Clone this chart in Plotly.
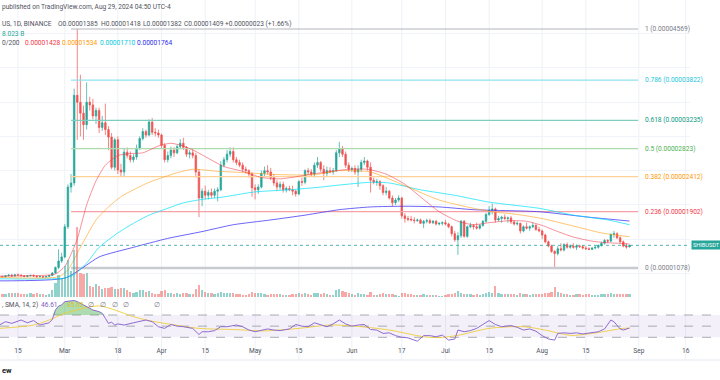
import plotly.graph_objects as go
import pandas as pd

# ---------------- DATA (prices in units of 1e-5 USDT, volume in billions) ----------------
dates = pd.date_range("2024-02-09", "2024-08-29", freq="D")

open_ = [
    # Feb 9-29
    .945, .955, .950, .965, .975, .960, .980, .975, .965, .955, .965, .970, .960, .950, .955, .945, .955, .970, 1.005, 1.085, 1.18,
    # Mar
    1.24, 1.68, 2.26, 2.32, 3.60, 3.50, 3.34, 3.17, 3.50, 3.46, 3.30, 3.38, 3.13, 3.20, 3.10, 2.99, 2.55, 2.95, 2.51, 2.48,
    2.77, 2.72, 2.66, 2.70, 2.83, 2.97, 3.07, 3.02, 3.21, 3.06, 3.05,
    # Apr
    3.02, 2.87, 2.66, 2.72, 2.80, 2.76, 2.85, 2.90, 2.84, 2.74, 2.76, 2.72, 2.48, 2.10, 2.20, 2.14, 2.18, 2.14, 2.20, 2.22,
    2.58, 2.66, 2.74, 2.78, 2.66, 2.62, 2.58, 2.52, 2.50, 2.45,
    # May
    2.25, 2.22, 2.26, 2.46, 2.50, 2.48, 2.40, 2.32, 2.26, 2.30, 2.22, 2.24, 2.22, 2.20, 2.16, 2.34, 2.33, 2.50, 2.48, 2.45,
    2.58, 2.62, 2.52, 2.46, 2.50, 2.48, 2.50, 2.76, 2.82, 2.74, 2.58,
    # Jun
    2.52, 2.53, 2.48, 2.52, 2.62, 2.64, 2.55, 2.36, 2.33, 2.34, 2.28, 2.18, 2.20, 2.10, 2.03, 2.07, 2.10, 1.84, 1.80, 1.79,
    1.78, 1.77, 1.78, 1.73, 1.76, 1.77, 1.74, 1.76, 1.72, 1.73,
    # Jul
    1.74, 1.72, 1.68, 1.58, 1.49, 1.55, 1.76, 1.54, 1.68, 1.70, 1.68, 1.66, 1.70, 1.76, 1.86, 1.92, 1.94, 1.78, 1.80, 1.82,
    1.80, 1.81, 1.75, 1.72, 1.73, 1.62, 1.68, 1.66, 1.68, 1.70, 1.64,
    # Aug 1-29
    1.62, 1.56, 1.46, 1.40, 1.32, 1.29, 1.36, 1.34, 1.42, 1.38, 1.40, 1.38, 1.40, 1.39, 1.37, 1.36, 1.35, 1.37, 1.38, 1.41,
    1.44, 1.48, 1.47, 1.57, 1.58, 1.52, 1.46, 1.40, 1.385,
]
high = [
    .960, .965, .975, .985, .990, .985, .995, .985, .975, .970, .980, .985, .970, .965, .960, .960, .975, 1.02, 1.10, 1.35, 1.30,
    1.72, 2.30, 2.45, 3.70, 4.569, 3.90, 3.45, 3.79, 3.58, 3.55, 3.42, 3.42, 3.30, 3.48, 3.15, 3.05, 2.98, 3.00, 2.60, 2.82,
    2.84, 2.78, 2.74, 2.88, 3.00, 3.12, 3.10, 3.25, 3.27, 3.12, 3.10,
    3.04, 2.90, 2.78, 2.85, 2.84, 2.88, 2.96, 2.98, 2.86, 2.80, 2.82, 2.76, 2.52, 2.24, 2.28, 2.22, 2.24, 2.24, 2.26, 2.64,
    2.70, 2.80, 2.84, 2.84, 2.70, 2.66, 2.62, 2.56, 2.52, 2.48,
    2.30, 2.30, 2.50, 2.56, 2.58, 2.54, 2.45, 2.36, 2.34, 2.34, 2.27, 2.28, 2.28, 2.22, 2.36, 2.40, 2.52, 2.54, 2.52, 2.62,
    2.70, 2.64, 2.58, 2.56, 2.55, 2.54, 2.80, 2.92, 2.86, 2.78, 2.62,
    2.56, 2.58, 2.58, 2.66, 2.70, 2.66, 2.62, 2.40, 2.38, 2.36, 2.30, 2.26, 2.22, 2.14, 2.10, 2.14, 2.12, 1.88, 1.84, 1.84,
    1.82, 1.80, 1.80, 1.78, 1.80, 1.80, 1.78, 1.78, 1.75, 1.76,
    1.78, 1.74, 1.70, 1.62, 1.60, 1.78, 1.78, 1.70, 1.74, 1.72, 1.74, 1.72, 1.78, 1.88, 1.98, 2.02, 1.96, 1.84, 1.84, 1.86,
    1.83, 1.84, 1.78, 1.76, 1.74, 1.70, 1.74, 1.70, 1.74, 1.72, 1.68,
    1.64, 1.58, 1.48, 1.42, 1.34, 1.40, 1.44, 1.44, 1.45, 1.42, 1.44, 1.42, 1.42, 1.41, 1.40, 1.38, 1.38, 1.40, 1.42, 1.46,
    1.50, 1.50, 1.58, 1.62, 1.60, 1.54, 1.48, 1.44, 1.418,
]
low = [
    .935, .945, .945, .955, .955, .955, .965, .960, .945, .945, .955, .950, .940, .940, .935, .940, .950, .960, .995, 1.06, 1.15,
    1.22, 1.65, 2.18, 2.28, 2.95, 3.00, 2.95, 3.10, 3.38, 3.25, 3.18, 3.05, 3.08, 3.02, 2.80, 2.52, 2.50, 2.45, 2.42, 2.42,
    2.68, 2.62, 2.62, 2.66, 2.80, 2.94, 2.98, 3.00, 3.02, 3.00, 2.98,
    2.82, 2.62, 2.62, 2.68, 2.70, 2.74, 2.82, 2.80, 2.70, 2.68, 2.68, 2.40, 1.82, 1.98, 2.08, 2.08, 2.10, 2.10, 2.05, 2.20,
    2.55, 2.62, 2.70, 2.62, 2.58, 2.55, 2.48, 2.46, 2.40, 2.12,
    2.08, 2.16, 2.24, 2.42, 2.44, 2.36, 2.28, 2.20, 2.22, 2.18, 2.18, 2.20, 2.14, 2.12, 2.14, 2.28, 2.30, 2.44, 2.42, 2.40,
    2.54, 2.48, 2.36, 2.42, 2.46, 2.44, 2.48, 2.70, 2.70, 2.54, 2.48,
    2.48, 2.44, 2.26, 2.48, 2.58, 2.50, 2.18, 2.30, 2.28, 2.22, 2.14, 2.14, 2.08, 1.98, 2.00, 2.04, 1.80, 1.74, 1.76, 1.76,
    1.73, 1.75, 1.72, 1.66, 1.73, 1.72, 1.72, 1.70, 1.70, 1.70,
    1.70, 1.66, 1.54, 1.46, 1.27, 1.52, 1.52, 1.52, 1.66, 1.64, 1.64, 1.64, 1.68, 1.74, 1.84, 1.86, 1.74, 1.76, 1.74, 1.78,
    1.74, 1.72, 1.70, 1.70, 1.58, 1.60, 1.64, 1.62, 1.66, 1.62, 1.60,
    1.50, 1.44, 1.38, 1.30, 1.078, 1.26, 1.32, 1.32, 1.36, 1.36, 1.36, 1.34, 1.37, 1.35, 1.34, 1.34, 1.34, 1.35, 1.36, 1.39,
    1.42, 1.44, 1.46, 1.52, 1.50, 1.44, 1.38, 1.36, 1.382,
]
close = [
    .955, .950, .965, .975, .960, .980, .975, .965, .955, .965, .970, .960, .950, .955, .945, .955, .970, 1.005, 1.085, 1.18, 1.24,
    1.68, 2.26, 2.32, 3.60, 3.50, 3.34, 3.17, 3.50, 3.46, 3.30, 3.38, 3.13, 3.20, 3.10, 2.99, 2.55, 2.95, 2.51, 2.48, 2.77,
    2.72, 2.66, 2.70, 2.83, 2.97, 3.07, 3.02, 3.21, 3.06, 3.05, 3.02,
    2.87, 2.66, 2.72, 2.80, 2.76, 2.85, 2.90, 2.84, 2.74, 2.76, 2.72, 2.48, 2.10, 2.20, 2.14, 2.18, 2.14, 2.20, 2.22, 2.58,
    2.66, 2.74, 2.78, 2.66, 2.62, 2.58, 2.52, 2.50, 2.45, 2.25,
    2.22, 2.26, 2.46, 2.50, 2.48, 2.40, 2.32, 2.26, 2.30, 2.22, 2.24, 2.22, 2.20, 2.16, 2.34, 2.33, 2.50, 2.48, 2.45, 2.58,
    2.62, 2.52, 2.46, 2.50, 2.48, 2.50, 2.76, 2.82, 2.74, 2.58, 2.52,
    2.53, 2.48, 2.52, 2.62, 2.64, 2.55, 2.36, 2.33, 2.34, 2.28, 2.18, 2.20, 2.10, 2.03, 2.07, 2.10, 1.84, 1.80, 1.79, 1.78,
    1.77, 1.78, 1.73, 1.76, 1.77, 1.74, 1.76, 1.72, 1.73, 1.74,
    1.72, 1.68, 1.58, 1.49, 1.55, 1.76, 1.54, 1.68, 1.70, 1.68, 1.66, 1.70, 1.76, 1.86, 1.92, 1.94, 1.78, 1.80, 1.82, 1.80,
    1.81, 1.75, 1.72, 1.73, 1.62, 1.68, 1.66, 1.68, 1.70, 1.64, 1.62,
    1.56, 1.46, 1.40, 1.32, 1.29, 1.36, 1.34, 1.42, 1.38, 1.40, 1.38, 1.40, 1.39, 1.37, 1.36, 1.35, 1.37, 1.38, 1.41, 1.44,
    1.48, 1.47, 1.57, 1.58, 1.52, 1.46, 1.40, 1.385, 1.409,
]
volume = [
    10, 8, 9, 12, 11, 10, 12, 9, 7, 8, 10, 9, 11, 8, 7, 6, 9, 20, 38, 60, 50,
    85, 100, 70, 127, 190, 65, 62, 65, 30, 28, 35, 30, 22, 25, 25, 28, 22, 22, 24, 25, 18, 14, 12, 13, 18, 18, 14, 16, 12, 9, 8,
    15, 18, 12, 10, 8, 11, 9, 12, 10, 8, 9, 22, 32, 18, 14, 12, 10, 9, 10, 14, 12, 10, 11, 12, 9, 8, 6, 6, 8, 14,
    12, 10, 11, 7, 6, 8, 9, 8, 7, 6, 5, 5, 8, 7, 12, 9, 10, 7, 6, 11, 12, 9, 10, 7, 5, 6, 18, 22, 16, 14, 10,
    8, 6, 10, 9, 7, 6, 14, 6, 5, 8, 10, 7, 8, 9, 5, 4, 12, 10, 8, 7, 6, 5, 6, 9, 6, 5, 5, 6, 4, 4,
    6, 7, 9, 10, 16, 12, 8, 9, 7, 6, 7, 6, 8, 10, 14, 12, 30, 12, 9, 8, 7, 8, 8, 6, 10, 9, 7, 6, 7, 8, 9,
    9, 10, 12, 14, 28, 14, 10, 9, 8, 6, 6, 8, 7, 6, 8, 7, 5, 5, 6, 8, 9, 7, 12, 9, 8, 9, 8, 7, 8.023,
]

# Moving averages (sparse samples)
ma20_dates = ["2024-02-09", "2024-02-20", "2024-02-27", "2024-03-01", "2024-03-03", "2024-03-05", "2024-03-08", "2024-03-11",
              "2024-03-14", "2024-03-18", "2024-03-22", "2024-03-26", "2024-03-31", "2024-04-04", "2024-04-08", "2024-04-12",
              "2024-04-16", "2024-04-21", "2024-04-27", "2024-05-03", "2024-05-09", "2024-05-14", "2024-05-19", "2024-05-24",
              "2024-05-31", "2024-06-06", "2024-06-12", "2024-06-18", "2024-06-24", "2024-06-29", "2024-07-05", "2024-07-10",
              "2024-07-15", "2024-07-22", "2024-07-27", "2024-08-01", "2024-08-06", "2024-08-11", "2024-08-17", "2024-08-21",
              "2024-08-25", "2024-08-29"]
ma20_vals = [0.96, 0.965, 0.99, 1.10, 1.28, 1.50, 2.00, 2.35, 2.58, 2.72, 2.75, 2.76, 2.86, 2.90, 2.86, 2.78,
             2.68, 2.56, 2.49, 2.40, 2.38, 2.41, 2.45, 2.48, 2.52, 2.52, 2.45, 2.30, 2.08, 1.90, 1.76, 1.71,
             1.74, 1.77, 1.76, 1.70, 1.61, 1.53, 1.47, 1.45, 1.44, 1.428]

ma50_dates = ["2024-02-09", "2024-02-28", "2024-03-02", "2024-03-06", "2024-03-11", "2024-03-15", "2024-03-19", "2024-03-23",
              "2024-03-28", "2024-04-02", "2024-04-06", "2024-04-11", "2024-04-19", "2024-04-24", "2024-05-01", "2024-05-10",
              "2024-05-20", "2024-05-28", "2024-06-07", "2024-06-18", "2024-06-29", "2024-07-10", "2024-07-16", "2024-07-24",
              "2024-08-01", "2024-08-12", "2024-08-20", "2024-08-29"]
ma50_vals = [0.94, 0.95, 1.05, 1.38, 1.78, 1.97, 2.12, 2.22, 2.33, 2.41, 2.47, 2.52, 2.49, 2.48, 2.46, 2.44,
             2.44, 2.50, 2.48, 2.28, 2.07, 1.95, 1.90, 1.86, 1.80, 1.68, 1.59, 1.534]

ma100_dates = ["2024-02-09", "2024-03-01", "2024-03-04", "2024-03-08", "2024-03-12", "2024-03-18", "2024-03-23", "2024-03-28",
               "2024-04-03", "2024-04-08", "2024-04-14", "2024-04-20", "2024-05-01", "2024-05-12", "2024-05-22", "2024-05-28",
               "2024-06-07", "2024-06-13", "2024-06-23", "2024-07-04", "2024-07-15", "2024-07-31", "2024-08-11", "2024-08-22",
               "2024-08-29"]
ma100_vals = [0.92, 0.93, 0.98, 1.15, 1.38, 1.59, 1.73, 1.85, 1.95, 2.03, 2.08, 2.11, 2.19, 2.22, 2.26, 2.29,
              2.33, 2.32, 2.22, 2.14, 2.04, 1.95, 1.85, 1.78, 1.71]

ma200_dates = ["2024-02-09", "2024-03-01", "2024-03-07", "2024-03-12", "2024-03-23", "2024-04-03", "2024-04-14", "2024-04-24",
               "2024-05-06", "2024-05-17", "2024-05-28", "2024-06-07", "2024-06-18", "2024-06-29", "2024-07-10", "2024-07-31",
               "2024-08-16", "2024-08-29"]
ma200_vals = [0.89, 0.93, 1.09, 1.24, 1.38, 1.51, 1.61, 1.71, 1.78, 1.85, 1.93, 1.97, 1.98, 1.97, 1.93, 1.90, 1.82, 1.764]

rsi_dates = ["2024-02-09", "2024-02-11", "2024-02-13", "2024-02-14", "2024-02-16", "2024-02-18", "2024-02-20", "2024-02-22",
             "2024-02-24", "2024-02-25", "2024-02-26", "2024-02-27", "2024-02-28", "2024-02-29", "2024-03-01", "2024-03-02",
             "2024-03-04", "2024-03-05", "2024-03-06", "2024-03-08", "2024-03-10", "2024-03-12", "2024-03-13", "2024-03-14",
             "2024-03-15", "2024-03-16", "2024-03-17", "2024-03-18", "2024-03-20", "2024-03-23", "2024-03-25", "2024-03-27",
             "2024-03-29", "2024-03-31", "2024-04-02", "2024-04-04", "2024-04-06", "2024-04-08", "2024-04-11", "2024-04-13",
             "2024-04-14", "2024-04-16", "2024-04-18", "2024-04-20", "2024-04-22", "2024-04-25", "2024-04-27", "2024-04-29",
             "2024-05-01", "2024-05-03", "2024-05-05", "2024-05-07", "2024-05-09", "2024-05-12", "2024-05-14", "2024-05-16",
             "2024-05-18", "2024-05-20", "2024-05-22", "2024-05-24", "2024-05-26", "2024-05-28", "2024-05-30", "2024-06-01",
             "2024-06-03", "2024-06-05", "2024-06-07", "2024-06-09", "2024-06-11", "2024-06-13", "2024-06-15", "2024-06-17",
             "2024-06-19", "2024-06-22", "2024-06-24", "2024-06-26", "2024-06-28", "2024-06-30", "2024-07-02", "2024-07-04",
             "2024-07-05", "2024-07-07", "2024-07-09", "2024-07-11", "2024-07-13", "2024-07-15", "2024-07-17", "2024-07-19",
             "2024-07-22", "2024-07-24", "2024-07-26", "2024-07-28", "2024-07-30", "2024-08-01", "2024-08-03", "2024-08-05",
             "2024-08-06", "2024-08-08", "2024-08-10", "2024-08-12", "2024-08-14", "2024-08-16", "2024-08-19", "2024-08-21",
             "2024-08-23", "2024-08-24", "2024-08-26", "2024-08-27", "2024-08-29"]
rsi_vals = [52, 58, 55, 57, 61, 56, 60, 52, 54, 56, 62, 79, 86, 88, 94, 95,
            96, 94, 91, 85, 79, 76, 73, 64, 55, 57, 52, 54, 52, 56, 58, 61,
            58, 49, 46, 53, 50, 49, 46, 35, 40, 40, 42, 49, 49, 52, 49, 43,
            40, 43, 45, 43, 42, 45, 53, 50, 49, 56, 52, 49, 54, 61, 54, 50,
            52, 53, 44, 43, 37, 38, 33, 30, 29, 23, 33, 33, 31, 34, 25, 27,
            43, 40, 42, 46, 53, 60, 53, 49, 51, 48, 43, 45, 41, 33, 27, 25,
            37, 38, 37, 38, 36, 38, 40, 45, 61, 58, 45, 43, 46.61]
rsi_ma_dates = ["2024-02-09", "2024-02-20", "2024-02-25", "2024-03-01", "2024-03-07", "2024-03-12", "2024-03-17", "2024-03-23",
                "2024-03-28", "2024-04-02", "2024-04-13", "2024-04-24", "2024-05-04", "2024-05-15", "2024-05-25", "2024-06-02",
                "2024-06-13", "2024-06-24", "2024-06-29", "2024-07-05", "2024-07-15", "2024-07-26", "2024-08-02", "2024-08-10",
                "2024-08-17", "2024-08-27", "2024-08-29"]
rsi_ma_vals = [46, 52, 61, 73, 82, 86.4, 79, 67, 60, 55, 46, 44, 41.5, 46, 52, 50,
               43, 31, 29.5, 33.5, 46, 49, 43, 33.5, 37, 46, 46.5]

fib_levels = [1, 0.786, 0.618, 0.5, 0.382, 0.236, 0]
fib_prices = [4.569, 3.822, 3.235, 2.823, 2.412, 1.902, 1.078]
fib_line_colors = ["#b2b5be", "#8fe3ef", "#7fcdbf", "#aedcaf", "#ffd199", "#f7a1a6", "#c8cacf"]
fib_text_colors = ["#787b86", "#26c6da", "#089981", "#4caf50", "#ff9800", "#f23645", "#787b86"]
fib_widths = [1.2, 1.2, 1.2, 1.2, 1.2, 1.2, 2.6]
fib_start, fib_end = "2024-03-03", "2024-08-31 18:00"

tick_dates = ["2024-02-15", "2024-03-01", "2024-03-18", "2024-04-01", "2024-04-15", "2024-05-01", "2024-05-15",
              "2024-06-01", "2024-06-17", "2024-07-01", "2024-07-15", "2024-08-01", "2024-08-15", "2024-09-01", "2024-09-16"]
tick_text = ["15", "Mar", "18", "Apr", "15", "May", "15", "Jun", "17", "Jul", "15", "Aug", "15", "Sep", "16"]

last_price = 1.409

# ---------------- LAYOUT GEOMETRY ----------------
W, H = 720, 380
ML, MR, MT, MB = 0, 30, 0, 35
PW, PH = W - ML - MR, H - MT - MB


def px_x(px):
    return (px - ML) / PW


def px_y(py):
    return (PH - (py - MT)) / PH


# price axis calibration (fib 1 at y=29, fib 0 at y=268)
k = (fib_prices[0] - fib_prices[-1]) / (268 - 29)
price_top = fib_prices[-1] + 268 * k
price_bot = fib_prices[-1] - (300 - 268) * k
# rsi calibration (70 at y=315, 30 at y=337.3)
rk = 40 / (337.3 - 315)
rsi_top = 70 + (315 - 300) * rk
rsi_bot = 30 - (345 - 337.3) * rk
# volume calibration (baseline y=297, 2.7B per px)
vpp = 2.7
vol_rng = [-(300 - 297) * vpp, 297 * vpp]

x_range = ["2024-02-09 05:32", "2024-09-17 09:07"]

FONT = "Roboto, Open Sans, sans-serif"
FS = 6.6
GREEN, RED = "#26a69a", "#ef5350"

fig = go.Figure()

# fib lines
for lvl, p, lc, w in zip(fib_levels, fib_prices, fib_line_colors, fib_widths):
    fig.add_trace(go.Scatter(x=[fib_start, fib_end], y=[p, p], mode="lines",
                             line=dict(color=lc, width=w), xaxis="x", yaxis="y", hoverinfo="skip"))

# volume
vol_colors = ["rgba(38,166,154,0.5)" if c >= o else "rgba(239,83,80,0.5)" for o, c in zip(open_, close)]
fig.add_trace(go.Bar(x=dates, y=volume, marker=dict(color=vol_colors, line_width=0),
                     width=0.72 * 86400000, xaxis="x", yaxis="y2"))

# moving averages
for d, v, col in [(ma200_dates, ma200_vals, "rgba(60,50,245,0.75)"),
                  (ma100_dates, ma100_vals, "rgba(0,225,250,0.7)"),
                  (ma50_dates, ma50_vals, "rgba(255,152,0,0.55)"),
                  (ma20_dates, ma20_vals, "rgba(242,54,69,0.55)")]:
    fig.add_trace(go.Scatter(x=d, y=v, mode="lines", line=dict(color=col, width=1, shape="spline", smoothing=0.6),
                             xaxis="x", yaxis="y"))

# candles
fig.add_trace(go.Candlestick(x=dates, open=open_, high=high, low=low, close=close,
                             increasing=dict(line=dict(color=GREEN, width=0.7), fillcolor=GREEN),
                             decreasing=dict(line=dict(color=RED, width=0.7), fillcolor=RED),
                             whiskerwidth=0, xaxis="x", yaxis="y"))

# RSI overbought fill
fill_d = [d for d in rsi_dates if "2024-02-26" <= d <= "2024-03-14"]
fill_v = [max(v, 70) for d, v in zip(rsi_dates, rsi_vals) if "2024-02-26" <= d <= "2024-03-14"]
fig.add_trace(go.Scatter(x=fill_d, y=[70] * len(fill_d), mode="lines", line=dict(width=0),
                         xaxis="x2", yaxis="y3", hoverinfo="skip"))
fig.add_trace(go.Scatter(x=fill_d, y=fill_v, mode="lines", line=dict(width=0), fill="tonexty",
                         fillcolor="rgba(76,175,80,0.45)", xaxis="x2", yaxis="y3", hoverinfo="skip"))
fig.add_trace(go.Scatter(x=rsi_ma_dates, y=rsi_ma_vals, mode="lines",
                         line=dict(color="rgba(240,205,60,0.9)", width=1, shape="spline", smoothing=0.8),
                         xaxis="x2", yaxis="y3"))
fig.add_trace(go.Scatter(x=rsi_dates, y=rsi_vals, mode="lines", line=dict(color="#8e6bd0", width=1),
                         xaxis="x2", yaxis="y3"))

shapes = []
# vertical grid lines through both panes and time scale
for td in tick_dates:
    shapes.append(dict(type="line", xref="x", yref="paper", x0=td, x1=td, y0=px_y(360), y1=1,
                       line=dict(color="#eef1f6", width=1), layer="below"))
# bottom border of time scale
shapes.append(dict(type="line", xref="paper", yref="paper", x0=0, x1=W / PW, y0=px_y(360), y1=px_y(360),
                   line=dict(color="#e6e8ee", width=1), layer="below"))
# RSI band and levels
shapes.append(dict(type="rect", xref="paper", yref="y3", x0=0, x1=W / PW, y0=30, y1=70,
                   fillcolor="rgba(126,87,194,0.09)", line_width=0, layer="below"))
for lv in [70, 50, 30]:
    shapes.append(dict(type="line", xref="paper", yref="y3", x0=0, x1=W / PW, y0=lv, y1=lv,
                       line=dict(color="#9598a1", width=0.8, dash="dash"), layer="below"))
# last price line
shapes.append(dict(type="line", xref="paper", yref="y", x0=0, x1=1, y0=last_price, y1=last_price,
                   line=dict(color="rgba(38,166,154,0.8)", width=1, dash="dot")))

ann = []


def text(px, py, s, color="#50535e", size=FS, bold=False, **kw):
    if bold:
        s = "<b>" + s + "</b>"
    d = dict(x=px_x(px), y=px_y(py), xref="paper", yref="paper", text=s, showarrow=False,
             xanchor="left", yanchor="middle", font=dict(family=FONT, size=size, color=color))
    d.update(kw)
    ann.append(d)


text(0, 7.5, "published on TradingView.com, Aug 29, 2024 04:50 UTC-4")
text(0, 24, "US, 1D, BINANCE")
text(56, 24, "O0.00001385")
text(99, 24, "H0.00001418")
text(141, 24, "L0.00001382")
text(182, 24, "C0.00001409")
text(223, 24, "+0.00000023 (+1.66%)")
text(0, 33.5, "8.023 B", color=GREEN)
text(0, 43, "0/200")
text(23, 43, "0.00001428", color="#f23645")
text(60, 43, "0.00001534", color="#ff9800")
text(98, 43, "0.00001710", color="#00c8e0")
text(135, 43, "0.00001764", color="#2b2bf0")
text(0, 305, ", SMA, 14, 2)")
text(39, 305, "46.61", color="#7e57c2")
text(65, 305, "85.65", color="#d6c12a")
for sx in [86, 98, 110, 121, 152]:
    text(sx, 305, "∅", color="#787b86")
text(0, 370, "ew", color="#131722", size=7.5, bold=True)

# fib labels
for lvl, p, tc in zip(fib_levels, fib_prices, fib_text_colors):
    ann.append(dict(x=px_x(643), y=p, xref="paper", yref="y", showarrow=False, xanchor="left", yanchor="middle",
                    text=f"{lvl} ({p * 1e-5:.8f})", font=dict(family=FONT, size=FS, color=tc)))
# last price label
ann.append(dict(x=px_x(691), y=last_price, xref="paper", yref="y", showarrow=False, xanchor="left",
                yanchor="middle", text="SHIBUSDT", bgcolor=GREEN, borderpad=1,
                font=dict(family=FONT, size=5.6, color="white")))

fig.update_layout(
    width=W, height=H, margin=dict(l=ML, r=MR, t=MT, b=MB),
    paper_bgcolor="white", plot_bgcolor="white", showlegend=False, font=dict(family=FONT),
    bargap=0,
    xaxis=dict(domain=[0, 1], anchor="y", type="date", range=x_range, showticklabels=False, showgrid=False,
               zeroline=False, rangeslider=dict(visible=False), showline=False),
    xaxis2=dict(domain=[0, 1], anchor="y3", type="date", range=x_range, matches="x", tickvals=tick_dates,
                ticktext=tick_text, showgrid=False, zeroline=False, ticks="", showline=False,
                tickfont=dict(family=FONT, size=FS, color="#50535e")),
    yaxis=dict(domain=[px_y(300), 1], range=[price_bot, price_top], side="right", showticklabels=False,
               tick0=0, dtick=0.5, gridcolor="#f0f3fa", gridwidth=1, zeroline=False, showline=False),
    yaxis2=dict(domain=[px_y(300), 1], overlaying="y", range=vol_rng, visible=False),
    yaxis3=dict(domain=[0, px_y(300)], range=[rsi_bot, rsi_top], showticklabels=False, showgrid=False,
                zeroline=False, showline=False),
    shapes=shapes, annotations=ann,
)

fig.write_html("out.html", config={"displayModeBar": False},
               post_script="document.body.style.margin='0';document.body.style.overflow='hidden';")
